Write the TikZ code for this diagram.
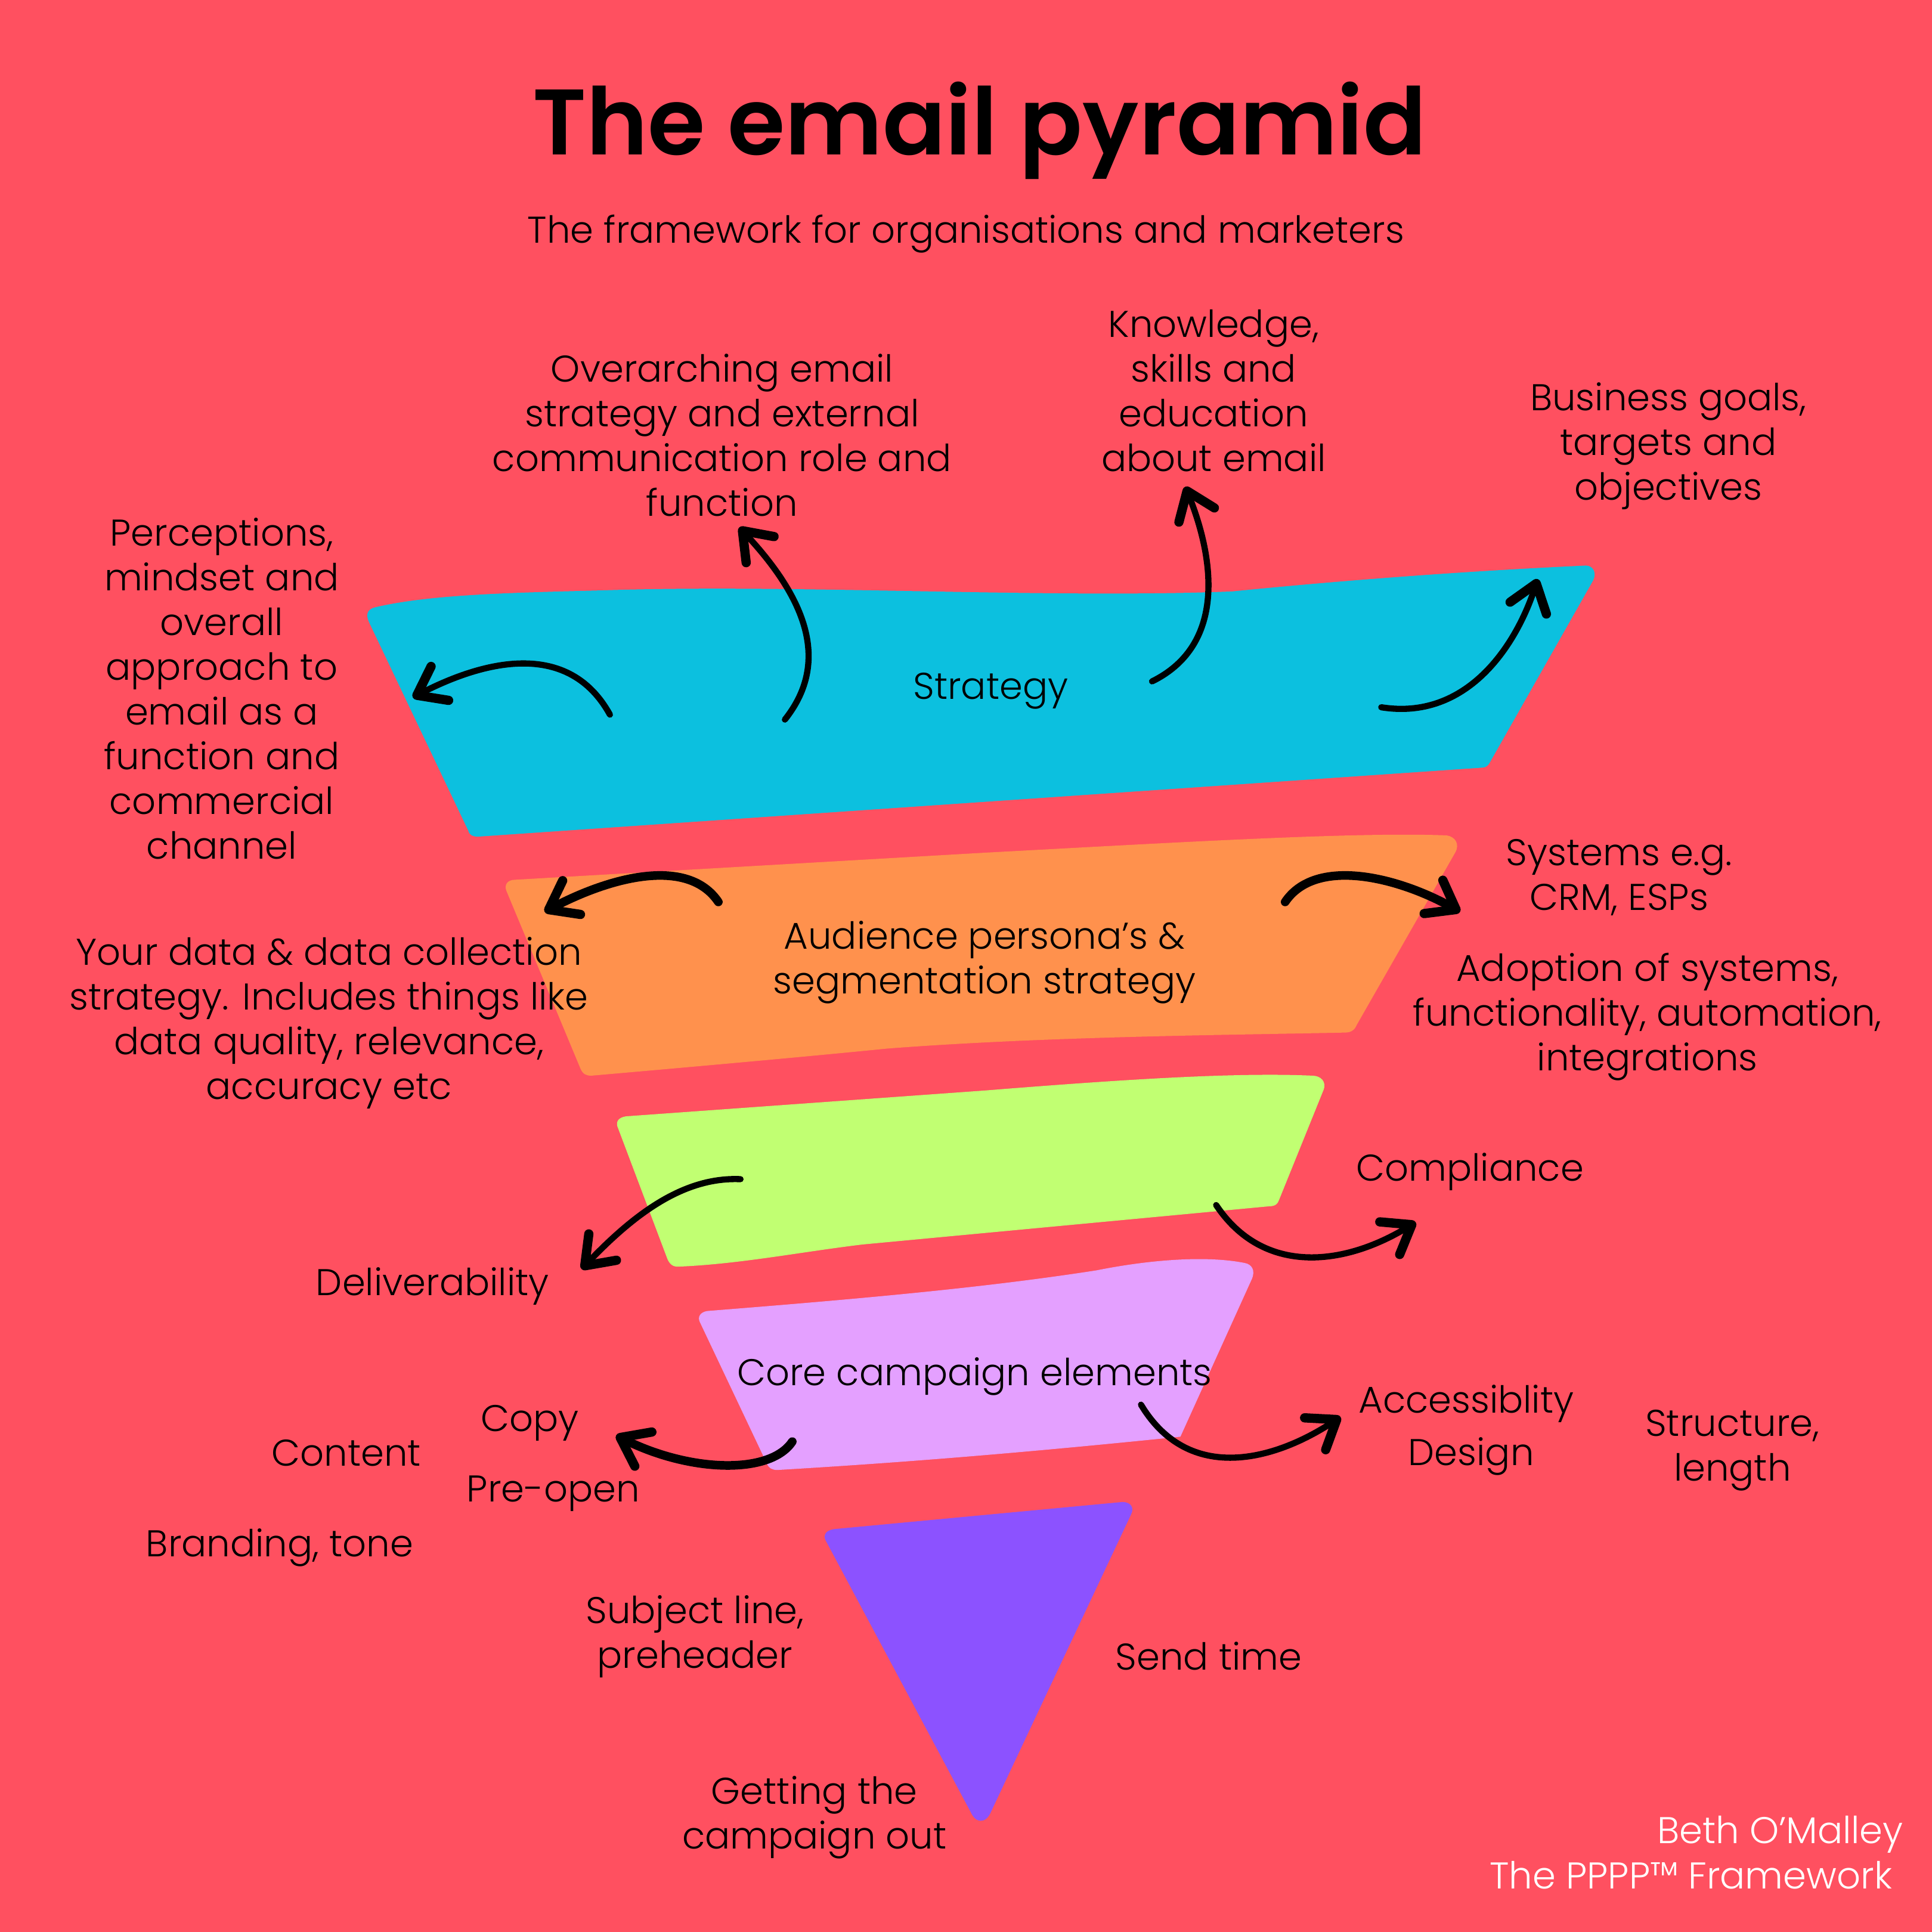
\documentclass[tikz,border=0pt]{standalone}
\usepackage{fontspec}
\setmainfont{Poppins Light}[BoldFont={Poppins SemiBold}]
\usetikzlibrary{arrows.meta}
\definecolor{bgred}{HTML}{FF5060}
\definecolor{bandblue}{HTML}{0CC0DF}
\definecolor{bandorange}{HTML}{FF914D}
\definecolor{bandgreen}{HTML}{C1FF72}
\definecolor{bandpink}{HTML}{E4A0FF}
\definecolor{bandviolet}{HTML}{8C52FF}
\tikzset{
lbl/.style={inner sep=0, align=center, font=\fontsize{17.2}{20.66}\selectfont},
sign/.style={lbl, text=white, anchor=east},
arw/.style={line width=.1cm, line cap=round, -{Straight Barb[length=.42cm, width=.62cm, line width=.15cm, round]}},
arwb/.style={arw, line width=.14cm},
}
\begin{document}
\begin{tikzpicture}[x=.02cm, y=-.02cm]
\fill[bgred] (0,0) rectangle (1568,1568);
\useasboundingbox (0,0) rectangle (1568,1568);
% the bands
\fill[bandblue] (300,506) -- (380,674) .. controls (381,678) and (384,679) .. (388,679) -- (1203,623)
  .. controls (1206,623) and (1208,621) .. (1209,619) -- (1293,471) .. controls (1296,465) and (1293,459) .. (1287,459)
  .. controls (1200,463) and (1100,470) .. (1000,480) .. controls (850,486) and (650,474) .. (493,479)
  .. controls (420,481) and (350,482) .. (304,493) .. controls (297,495) and (297,500) .. (300,506) -- cycle;
\fill[bandorange] (411,723) -- (471,867) .. controls (473,872) and (476,873) .. (480,873)
  .. controls (560,866) and (650,858) .. (720,851) .. controls (850,841) and (1000,840) .. (1092,838)
  .. controls (1097,838) and (1100,835) .. (1101,832) -- (1181,692) .. controls (1185,685) and (1181,679) .. (1174,678)
  .. controls (1100,675) and (950,684) .. (800,692) -- (418,714) .. controls (412,714) and (409,718) .. (411,723) -- cycle;
\fill[bandgreen] (501,914) -- (541,1020) .. controls (543,1026) and (546,1028) .. (550,1028)
  .. controls (600,1026) and (650,1016) .. (700,1010) -- (1030,979) .. controls (1035,979) and (1037,977) .. (1038,974)
  -- (1074,885) .. controls (1077,878) and (1072,873) .. (1065,873) .. controls (1000,870) and (900,877) .. (800,885)
  -- (508,906) .. controls (502,907) and (500,910) .. (501,914) -- cycle;
\fill[bandpink] (568,1073) -- (622,1187) .. controls (624,1192) and (627,1193) .. (631,1193)
  .. controls (750,1186) and (850,1177) .. (958,1166) -- (1016,1038) .. controls (1019,1031) and (1016,1026) .. (1010,1025)
  .. controls (980,1019) and (935,1022) .. (890,1031) .. controls (800,1045) and (700,1054) .. (574,1064)
  .. controls (568,1065) and (566,1069) .. (568,1073) -- cycle;
\fill[bandviolet] (670,1250) -- (788,1471) .. controls (792,1480) and (800,1480) .. (804,1471)
  -- (918,1229) .. controls (921,1223) and (917,1219) .. (911,1219) -- (677,1241) .. controls (670,1242) and (668,1246) .. (670,1250) -- cycle;
% heading
\node[inner sep=0, font=\fontsize{43}{50}\bfseries\selectfont] (title) at (795,106) {The email pyramid};
\node[lbl] (subtitle) at (784,190) {The framework for organisations and marketers};
% labels
\node[lbl] (overarching) at (586,353) {Overarching email\\strategy and external\\communication role and\\function};
\node[lbl] (knowledge) at (985,317) {Knowledge,\\skills and\\education\\about email};
\node[lbl] (goals) at (1354,362) {Business goals,\\targets and\\objectives};
\node[lbl] (perceptions) at (180,559) {Perceptions,\\mindset and\\overall\\approach to\\email as a\\function and\\commercial\\channel};
\node[lbl] (strategy) at (804,561) {Strategy};
\node[lbl] (audience) at (799,781) {Audience persona’s \&\\segmentation strategy};
\node[lbl] (systems) at (1314,712) {Systems e.g.\\CRM, ESPs};
\node[lbl] (adoption) at (1337,825) {Adoption of systems,\\functionality, automation,\\integrations};
\node[lbl] (yourdata) at (267,830) {Your data \& data collection\\strategy. Includes things like\\data quality, relevance,\\accuracy etc};
\node[lbl] (compliance) at (1193,951) {Compliance};
\node[lbl] (deliver) at (351,1044) {Deliverability};
\node[lbl] (core) at (791,1117) {Core campaign elements};
\node[lbl] (copy) at (430,1155) {Copy};
\node[lbl] (content) at (281,1179) {Content};
\node[lbl] (preopen) at (449,1212) {Pre-open};
\node[lbl] (branding) at (227,1256) {Branding, tone};
\node[lbl] (access) at (1190,1139) {Accessiblity};
\node[lbl] (design) at (1194,1182) {Design};
\node[lbl] (structure) at (1406,1177) {Structure,\\length};
\node[lbl] (subject) at (564,1328) {Subject line,\\preheader};
\node[lbl] (sendtime) at (981,1344) {Send time};
\node[lbl] (getting) at (661,1475) {Getting the\\campaign out};
\node[sign] (beth) at (1545,1489) {Beth O’Malley};
\node[sign] (pppp) at (1536,1522) {The PPPP™ Framework};
% arrow ends
\coordinate (s1) at (495,580); \coordinate (e1) at (335,566);
\coordinate (s2) at (637,584); \coordinate (e2) at (600,428);
\coordinate (s3) at (935,553); \coordinate (e3) at (962,395);
\coordinate (s4) at (1121,574); \coordinate (e4) at (1248,470);
\coordinate (s5) at (583,732); \coordinate (e5) at (442,740);
\coordinate (s6) at (1043,732); \coordinate (e6) at (1185,740);
\coordinate (s7) at (601,957); \coordinate (e7) at (472,1030);
\coordinate (s8) at (987,978); \coordinate (e8) at (1149,992);
\coordinate (s9) at (643,1170); \coordinate (e9) at (500,1165);
\coordinate (s10) at (926,1140); \coordinate (e10) at (1088,1150);
% arrows
\draw[arw] (s1) .. controls (462,520) and (395,535) .. (e1);
\draw[arw] (s2) .. controls (672,540) and (658,490) .. (e2);
\draw[arw] (s3) .. controls (992,525) and (988,460) .. (e3);
\draw[arw] (s4) .. controls (1190,585) and (1230,525) .. (e4);
\draw[arwb] (s5) .. controls (558,695) and (495,712) .. (e5);
\draw[arwb] (s6) .. controls (1068,695) and (1135,712) .. (e6);
\draw[arw] (s7) .. controls (555,955) and (515,985) .. (e7);
\draw[arw] (s8) .. controls (1025,1035) and (1090,1028) .. (e8);
\draw[arwb] (s9) .. controls (625,1197) and (560,1195) .. (e9);
\draw[arw] (s10) .. controls (965,1205) and (1035,1185) .. (e10);
\end{tikzpicture}
\end{document}
